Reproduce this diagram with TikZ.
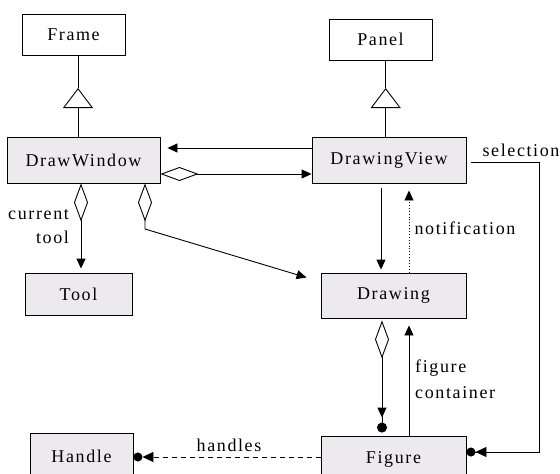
\documentclass[tikz,border=0pt]{standalone}
\usepackage{fontspec}
\setmainfont{Liberation Serif}[LetterSpace=9]
\usetikzlibrary{arrows.meta}
\definecolor{boxfill}{RGB}{237,234,237}
\begin{document}
\begin{tikzpicture}[x=1pt,y=-1pt,
  txt/.style={font=\fontsize{18}{20}\selectfont, inner sep=0pt},
  box/.style 2 args={draw, line width=0.9pt, fill=boxfill, minimum width=#1, minimum height=#2, inner sep=0pt, font=\fontsize{18}{20}\selectfont},
  wbox/.style 2 args={box={#1}{#2}, fill=white},
  conn/.style={line width=0.9pt},
  arr/.style={conn, -{Triangle[length=10pt,width=9pt]}},
  inh/.style={conn, -{Triangle[open,length=20pt,width=30pt]}},
  dia/.style={conn, {Diamond[open,length=38pt,width=14pt]}-{Triangle[length=10pt,width=9pt]}},
  diadot/.style={conn, {Diamond[open,length=38pt,width=14pt]}-{Triangle[length=10pt,width=9pt,sep=5pt]Circle[length=10pt,width=10pt]}},
  arrdot/.style={conn, -{Triangle[length=11pt,width=10pt]Circle[length=9pt,width=9pt]}}
]
\clip (0,0) rectangle (560,474);
\fill[white] (0,0) rectangle (560,474);

% boxes
\node[wbox={103pt}{41pt}] (Frame) at (73.5,34.5) {Frame};
\node[wbox={103pt}{41pt}] (Panel) at (380.5,39.5) {Panel};
\node[box={153pt}{46pt}] (DW) at (83.5,160) {DrawWindow};
\node[box={154pt}{46pt}] (DV) at (389,160) {DrawingView};
\node[box={107pt}{42pt}] (Tool) at (78.5,294) {Tool};
\node[box={145pt}{45pt}] (Drawing) at (393.5,295.5) {Drawing};
\node[box={103pt}{47pt}] (Handle) at (81.5,456.5) {Handle};
\node[box={145pt}{46pt}] (Figure) at (393.5,459) {Figure};

% inheritance
\coordinate (iF) at (78,88);
\coordinate (iP) at (385.7,88);
\draw[conn] (Frame.south -| iF) -- (iF);
\draw[inh] (DW.north -| iF) -- (iF);
\draw[conn] (Panel.south -| iP) -- (iP);
\draw[inh] (DV.north -| iP) -- (iP);

% DrawingView -> DrawWindow
\draw[arr] (DV.west |- 0,148) -- ([xshift=7pt]DW.east |- 0,148);
% DrawWindow <>-> DrawingView
\draw[dia] (DW.east |- 0,174) -- (DV.west |- 0,174);
% DrawWindow <>-> Tool
\draw[dia, shorten >=4pt] (DW.south -| 81,0) -- (Tool.north -| 81,0);
% DrawWindow <>-> Drawing
\coordinate (bend) at (145,229);
\draw[dia] (DW.south -| bend) -- (bend) -- ([xshift=-14pt,yshift=-5pt]Drawing.north west);
% DrawingView -> Drawing
\draw[arr, shorten >=3pt] ([yshift=-5pt]DV.south -| 381,0) -- (Drawing.north -| 381,0);
% notification
\draw[conn, dotted, -{Triangle[length=10pt,width=9pt]}, shorten >=7pt] (Drawing.north -| 409,0) -- (DV.south -| 409,0);
% Drawing <>-> Figure
\draw[diadot, shorten >=3pt] ([yshift=-2pt]Drawing.south -| 382,0) -- (Figure.north -| 382,0);
% figure container
\draw[arr, shorten >=7pt] (Figure.north -| 409,0) -- (Drawing.south -| 409,0);
% selection
\coordinate (s1) at (539,162);
\coordinate (s2) at (539,452);
\draw[arrdot] ([xshift=5pt]DV.east |- s1) -- (s1) -- (s2) -- (Figure.east |- s2);
% handles
\draw[arrdot, dash pattern=on 5pt off 4pt] (Figure.west |- 0,457) -- (Handle.east |- 0,457);

% labels
\node[txt, anchor=west] (lcur) at (8,215) {current};
\node[txt] (ltool) at (52.5,237) {tool};
\node[txt] (lsel) at (521,150) {selection};
\node[txt] (lnot) at (465,228) {notification};
\node[txt, anchor=west] (lfig) at (415,368) {figure};
\node[txt, anchor=west] (lcont) at (415,393) {container};
\node[txt] (lhand) at (229,445) {handles};
\end{tikzpicture}
\end{document}
